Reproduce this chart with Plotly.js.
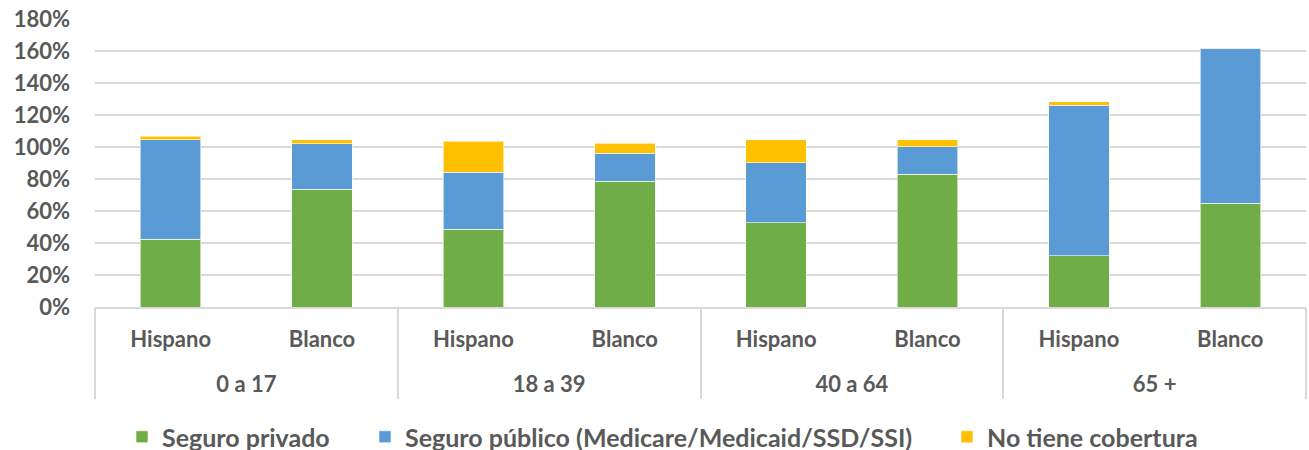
<!DOCTYPE html>
<html><head><meta charset="utf-8">
<script src="https://cdn.plot.ly/plotly-3.0.1.min.js"></script>
<style>html,body{margin:0;padding:0;background:#fff}#chart{width:1309px;height:450px}</style>
</head><body><div id="chart"></div>
<script>
const ageGroups = ["0 a 17","0 a 17","18 a 39","18 a 39","40 a 64","40 a 64","65 +","65 +"];
const ethnicity = ["Hispano","Blanco","Hispano","Blanco","Hispano","Blanco","Hispano","Blanco"];
const seguroPrivado = [42.2, 73.5, 48.5, 78.5, 52.8, 82.9, 31.9, 64.7];
const seguroPublico = [62.2, 28.6, 35.8, 17.7, 37.4, 17.3, 94.2, 96.9];
const sinCobertura = [2.3, 2.5, 19.3, 6.3, 14.2, 4.2, 2.1, 0.4];
const seriesNames = ["Seguro privado","Seguro público (Medicare/Medicaid/SSD/SSI)","No tiene cobertura"];
const colors = ["#70ad47","#5b9bd5","#ffc000"];
const FONT = "Lato, 'Liberation Sans', sans-serif";
const GREY = '#595959', LINE = '#d9d9d9';

// unique category keys, one per bar
const keys = ageGroups.map((g,i)=>g+'|'+ethnicity[i]);
const groups = [...new Set(ageGroups)];
const groupCenters = groups.map(g=>(ageGroups.indexOf(g)+ageGroups.lastIndexOf(g))/2);
const boundaries = [-0.5].concat(groups.map(g=>ageGroups.lastIndexOf(g)+0.5));
const n = keys.length;

const W = 1309, H = 450, L = 95, R = 3, T = 19, B = 0;
const plotW = W - L - R, plotH = H - T - B;
const legendNames = ['legend','legend2','legend3'];
const legendTextX = [162, 405, 987];

const vals = [seguroPrivado, seguroPublico, sinCobertura];
const data = vals.map((v,i)=>({
  type:'bar', x:keys, y:v, name:seriesNames[i], legend:legendNames[i],
  marker:{color:colors[i], line:{color:'rgba(255,255,255,0.6)', width:1}},
  hoverinfo:'y'
}));
data.push({type:'scatter', x:[], y:[], xaxis:'x2', showlegend:false, hoverinfo:'skip'});

const tickFont = {family:FONT, size:22, color:GREY, weight:'bold'};
const layout = {
  width:W, height:H,
  margin:{l:L, r:R, t:T, b:B, autoexpand:false},
  barmode:'stack', bargap:0.6,
  paper_bgcolor:'#fff', plot_bgcolor:'#fff',
  font:{family:FONT, color:GREY, size:20},
  showlegend:true,
  yaxis:{domain:[(H-307-B)/plotH,1], range:[0,180], dtick:20, ticksuffix:'%', showgrid:true, gridcolor:LINE, gridwidth:1.5,
    zeroline:false, showline:false, tickfont:{family:FONT, size:22, color:GREY, weight:'bold'}, ticklabelstandoff:24},
  xaxis:{type:'category', range:[-0.5,n-0.5], tickmode:'array', tickvals:keys, ticktext:ethnicity,
    showline:true, linecolor:LINE, linewidth:1.5, ticks:'', showgrid:false,
    tickfont:tickFont, ticklabelstandoff:12},
  xaxis2:{type:'linear', overlaying:'x', anchor:'y', side:'bottom', range:[-0.5,n-0.5],
    tickmode:'array', tickvals:groupCenters, ticktext:groups, ticks:'', showgrid:false, zeroline:false, showline:false,
    tickfont:tickFont, ticklabelstandoff:62,
    minor:{tickmode:'array', tickvals:boundaries, ticks:'outside', ticklen:91, tickwidth:1.5, tickcolor:LINE, showgrid:false}}
};
legendNames.forEach((ln,i)=>{
  layout[ln] = {orientation:'h', x:(legendTextX[i]-40-L)/plotW, xanchor:'left', y:(H-437-B)/plotH, yanchor:'middle',
    bgcolor:'rgba(0,0,0,0)', font:{family:FONT, size:25, color:GREY, weight:'bold'}};
});
Plotly.newPlot('chart', data, layout, {displayModeBar:false});
</script></body></html>
